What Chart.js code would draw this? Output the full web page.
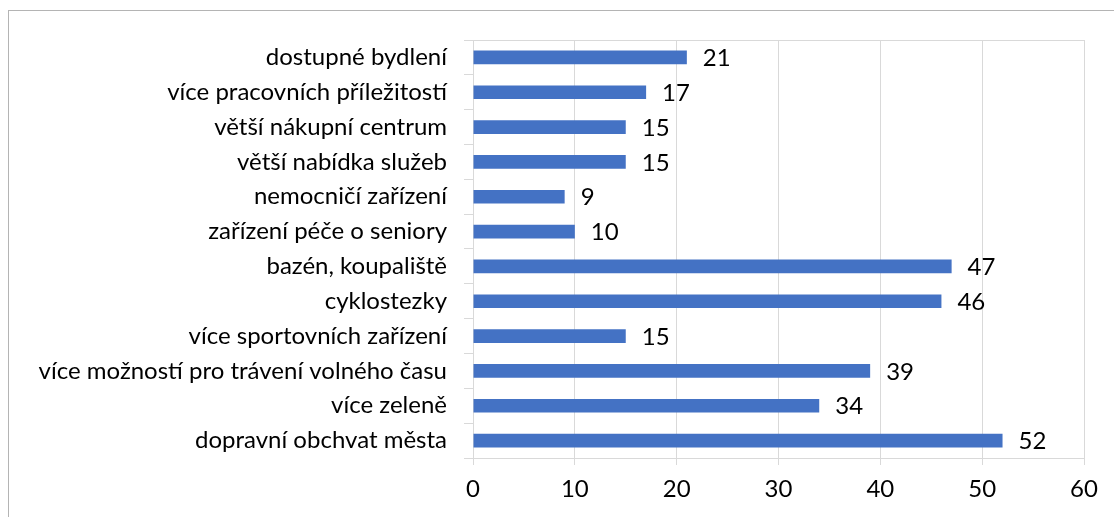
<!DOCTYPE html>
<html lang="cs">
<head>
    <meta charset="UTF-8">
    <title>Chart</title>
    <style>
        html, body {
            margin: 0;
            padding: 0;
            background: #fff;
            overflow: hidden;
        }

        .frame {
            position: absolute;
            left: 8px;
            top: 10px;
            width: 1200px;
            height: 600px;
            border: 1px solid #b4b4b4;
        }

        .wrap {
            position: absolute;
            left: 0;
            top: 0;
            width: 1114px;
            height: 517px;
        }
    </style>
    <script src="https://cdn.jsdelivr.net/npm/chart.js"></script>
</head>
<body>
    <div class="frame"></div>
    <div class="wrap">
        <canvas id="barChart" width="1114" height="517"></canvas>
    </div>

    <script>
        const categories = [
            'dostupné bydlení',
            'více pracovních příležitostí',
            'větší nákupní centrum',
            'větší nabídka služeb',
            'nemocničí zařízení',
            'zařízení péče o seniory',
            'bazén, koupaliště',
            'cyklostezky',
            'více sportovních zařízení',
            'více možností pro trávení volného času',
            'více zeleně',
            'dopravní obchvat města'
        ];
        const values = [21, 17, 15, 15, 9, 10, 47, 46, 15, 39, 34, 52];
        const xTicks = [0, 10, 20, 30, 40, 50, 60];

        const fontFamily = 'Lato, "Open Sans", sans-serif';
        const fontSize = 24;
        const gridColor = '#d9d9d9';

        // value labels right of each bar
        const valueLabels = {
            id: 'valueLabels',
            afterDatasetsDraw(chart) {
                const ctx = chart.ctx;
                const meta = chart.getDatasetMeta(0);
                ctx.save();
                ctx.font = fontSize + 'px ' + fontFamily;
                ctx.fillStyle = '#000';
                ctx.textBaseline = 'middle';
                ctx.textAlign = 'left';
                meta.data.forEach((bar, i) => {
                    ctx.fillText(String(values[i]), bar.x + 16, bar.y + 1);
                });
                ctx.restore();
            }
        };

        new Chart(document.getElementById('barChart'), {
            type: 'bar',
            data: {
                labels: categories,
                datasets: [{
                    data: values,
                    backgroundColor: '#4472C4',
                    barPercentage: 0.78,
                    categoryPercentage: 0.5
                }]
            },
            options: {
                indexAxis: 'y',
                responsive: false,
                animation: false,
                layout: {
                    padding: { top: 40, right: 30, bottom: 0, left: 0 }
                },
                plugins: {
                    legend: { display: false },
                    tooltip: { enabled: false }
                },
                scales: {
                    x: {
                        min: xTicks[0],
                        max: xTicks[xTicks.length - 1],
                        afterBuildTicks(scale) {
                            scale.ticks = xTicks.map(v => ({ value: v }));
                        },
                        afterFit(scale) {
                            scale.height = 59;
                        },
                        grid: {
                            color: gridColor,
                            tickColor: gridColor,
                            tickLength: 7
                        },
                        border: { color: gridColor },
                        ticks: {
                            color: '#000',
                            padding: 10,
                            font: { family: fontFamily, size: fontSize }
                        }
                    },
                    y: {
                        afterFit(scale) {
                            scale.width = 473;
                        },
                        grid: {
                            offset: true,
                            color: ctx => ctx.index === 0 ? gridColor : 'rgba(0,0,0,0)',
                            tickColor: gridColor,
                            tickLength: 9
                        },
                        border: { color: gridColor },
                        ticks: {
                            color: '#000',
                            padding: 17,
                            font: { family: fontFamily, size: fontSize }
                        }
                    }
                }
            },
            plugins: [valueLabels]
        });
    </script>
</body>
</html>
